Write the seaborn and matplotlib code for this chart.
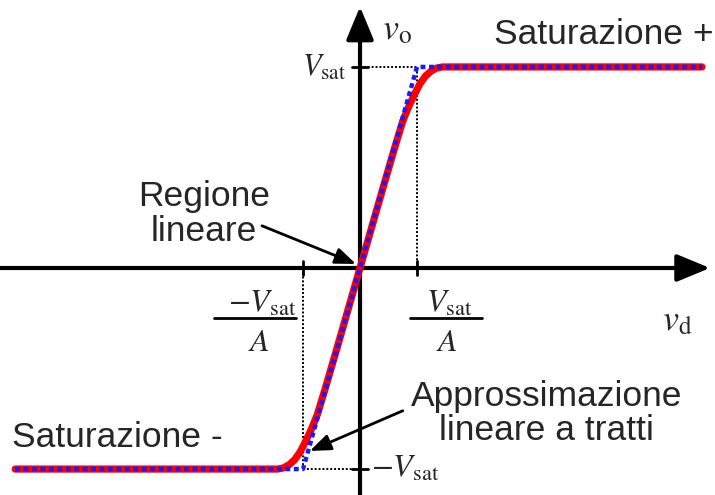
import numpy as np
import pandas as pd
import matplotlib
matplotlib.use("Agg")
import matplotlib.pyplot as plt
import seaborn as sns

# Units: v_d in multiples of Vsat/A, v_o in multiples of Vsat
vd_real = [-6.05, -1.45, -1.35, -1.25, -1.15, -1.05, -0.95, -0.85, -0.75, -0.6, -0.4, 0.0,
           0.4, 0.6, 0.75, 0.85, 0.95, 1.05, 1.15, 1.25, 1.35, 1.45, 6.0]
vo_real = [-1.0, -1.0, -0.995, -0.98, -0.955, -0.915, -0.86, -0.8, -0.73, -0.59, -0.395, 0.0,
           0.395, 0.59, 0.73, 0.8, 0.86, 0.915, 0.955, 0.98, 0.995, 1.0, 1.0]

vd_pw = [-6.05, -1.0, 1.0, 6.0]
vo_pw = [-1.0, -1.0, 1.0, 1.0]

sns.set_style("white")
plt.rcParams["mathtext.fontset"] = "stix"
plt.rcParams["font.family"] = ["Liberation Sans", "DejaVu Sans"]

fig = plt.figure(figsize=(7.15, 4.95), dpi=100)
ax = fig.add_axes([0, 0, 1, 1])
ax.set_xlim(-6.316, 6.228)
ax.set_ylim(-1.129, 1.333)
ax.axis("off")

real_df = pd.DataFrame({"vd": vd_real, "vo": vo_real})
pw_df = pd.DataFrame({"vd": vd_pw, "vo": vo_pw})

# Dotted guide lines to the saturation corners
guide = dict(color="black", lw=1.4, ls=(0, (1, 1)), zorder=2)
ax.plot([0, 1], [1, 1], **guide)
ax.plot([1, 1], [0, 1], **guide)
ax.plot([-1, 0], [-1, -1], **guide)
ax.plot([-1, -1], [-1, 0], **guide)

# Axes with arrowheads
astyle = "-|>,head_length=1.45,head_width=0.6"
ax.annotate("", xy=(6.14, 0), xytext=(-6.4, 0),
            arrowprops=dict(arrowstyle=astyle, mutation_scale=14, lw=3, color="black",
                            shrinkA=0, shrinkB=0), zorder=3)
ax.annotate("", xy=(0, 1.30), xytext=(0, -1.2),
            arrowprops=dict(arrowstyle=astyle, mutation_scale=14, lw=3, color="black",
                            shrinkA=0, shrinkB=0), zorder=3)

# Small tick marks
for t in (-1, 1):
    ax.plot([t, t], [-0.035, 0.035], color="black", lw=2, zorder=3)
    ax.plot([-0.14, 0.14], [t, t], color="black", lw=2, zorder=3)

sns.lineplot(data=real_df, x="vd", y="vo", ax=ax, color="#ff0000", lw=5.2,
             sort=False, zorder=4, solid_capstyle="round")
sns.lineplot(data=pw_df, x="vd", y="vo", ax=ax, color="#1a1aff", lw=3.2,
             sort=False, zorder=5, linestyle=(0, (1.1, 0.8)))

# Axis labels
ax.text(0.38, 1.185, r"$v_{\mathrm{o}}$", fontsize=26, ha="left", va="center")
ax.text(5.3, -0.26, r"$v_{\mathrm{d}}$", fontsize=26, ha="left", va="center")
ax.text(-0.24, 0.995, r"$V_{\mathrm{sat}}$", fontsize=22, ha="right", va="center")
ax.text(0.2, -1.0, r"$-V_{\mathrm{sat}}$", fontsize=23, ha="left", va="center")

# Fractions +-Vsat/A
ax.text(-1.72, -0.18, r"$-V_{\mathrm{sat}}$", fontsize=23, ha="center", va="center")
ax.plot([-2.56, -1.12], [-0.249, -0.249], color="black", lw=2)
ax.text(-1.78, -0.375, r"$A$", fontsize=23, ha="center", va="center")
ax.text(1.56, -0.18, r"$V_{\mathrm{sat}}$", fontsize=23, ha="center", va="center")
ax.plot([0.88, 2.14], [-0.249, -0.249], color="black", lw=2)
ax.text(1.52, -0.375, r"$A$", fontsize=23, ha="center", va="center")

# Region descriptions
ax.text(6.2, 1.16, "Saturazione +", fontsize=25.5, ha="right", va="center")
ax.text(-6.1, -0.845, "Saturazione -", fontsize=25.5, ha="left", va="center")
ax.text(-2.74, 0.27, "Regione\nlineare", fontsize=25.5, ha="center", va="center",
        linespacing=1.08)
ax.text(3.27, -0.725, "Approssimazione\nlineare a tratti", fontsize=25.5, ha="center",
        va="center", linespacing=1.05)

ax.annotate("", xy=(-0.07, 0.02), xytext=(-1.72, 0.21),
            arrowprops=dict(arrowstyle="-|>,head_length=0.9,head_width=0.35",
                            mutation_scale=14, lw=2, color="black", shrinkA=0, shrinkB=0),
            zorder=6)
ax.annotate("", xy=(-0.88, -0.91), xytext=(0.75, -0.71),
            arrowprops=dict(arrowstyle="-|>,head_length=0.9,head_width=0.35",
                            mutation_scale=14, lw=2, color="black", shrinkA=0, shrinkB=0),
            zorder=6)

fig.savefig("out.png", dpi=100, facecolor="white")
